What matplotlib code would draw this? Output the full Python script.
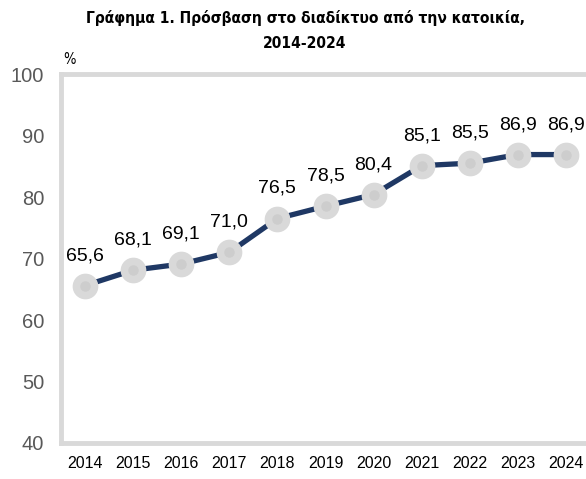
import matplotlib
matplotlib.use("Agg")
import matplotlib.pyplot as plt

years = ["2014", "2015", "2016", "2017", "2018", "2019", "2020", "2021", "2022", "2023", "2024"]
values = [65.6, 68.1, 69.1, 71.0, 76.5, 78.5, 80.4, 85.1, 85.5, 86.9, 86.9]
yticks = [40, 50, 60, 70, 80, 90, 100]
title_lines = ["Γράφημα 1. Πρόσβαση στο διαδίκτυο από την κατοικία,", "2014-2024"]

W, H = 586, 479
fig = plt.figure(figsize=(W / 100, H / 100), dpi=100)
ax = fig.add_axes([61 / W, (H - 443) / H, (590 - 61) / W, (443 - 74) / H])

x = list(range(len(years)))
ax.plot(x, values, color="#1f3864", lw=3.8, zorder=2, solid_capstyle="butt")
ax.plot(x, values, ls="none", marker="o", ms=17.5, mfc="#d9d9d9", mec="#d9d9d9", zorder=3)
ax.plot(x, values, ls="none", marker="o", ms=6.5, mfc="#cdcdcd", mec="#cdcdcd", zorder=4)

for xi, v in zip(x, values):
    ax.annotate(f"{v:.1f}".replace(".", ","), (xi, v), xytext=(0, 15.5), textcoords="offset points",
                ha="center", va="bottom", fontsize=14, color="#000000",
                fontfamily="Liberation Sans", zorder=5, annotation_clip=False)

ax.set_xlim(-0.5, len(years) - 0.5)
ax.set_ylim(40, 100)
ax.set_xticks(x)
ax.set_xticklabels(years, fontsize=11.5, color="#000000", fontfamily="Liberation Sans")
ax.set_yticks(yticks)
ax.set_yticklabels([str(t) for t in yticks], fontsize=14.5, color="#595959", fontfamily="Liberation Sans")
ax.tick_params(axis="both", length=0)
ax.tick_params(axis="y", pad=12)
ax.tick_params(axis="x", pad=9)

for s in ["left", "top", "bottom", "right"]:
    ax.spines[s].set_color("#d9d9d9")
    ax.spines[s].set_linewidth(3.5)

for line, yc in zip(title_lines, [18, 44]):
    fig.text(305 / W, 1 - yc / H, line, ha="center", va="center", fontsize=11.2, fontweight="bold",
             fontfamily="DejaVu Sans", fontstretch="condensed")
fig.text(63 / W, 1 - 60 / H, "%", ha="left", va="center", fontsize=10.5,
         fontfamily="DejaVu Sans", fontstretch="condensed")

fig.savefig("out.png", dpi=100)
